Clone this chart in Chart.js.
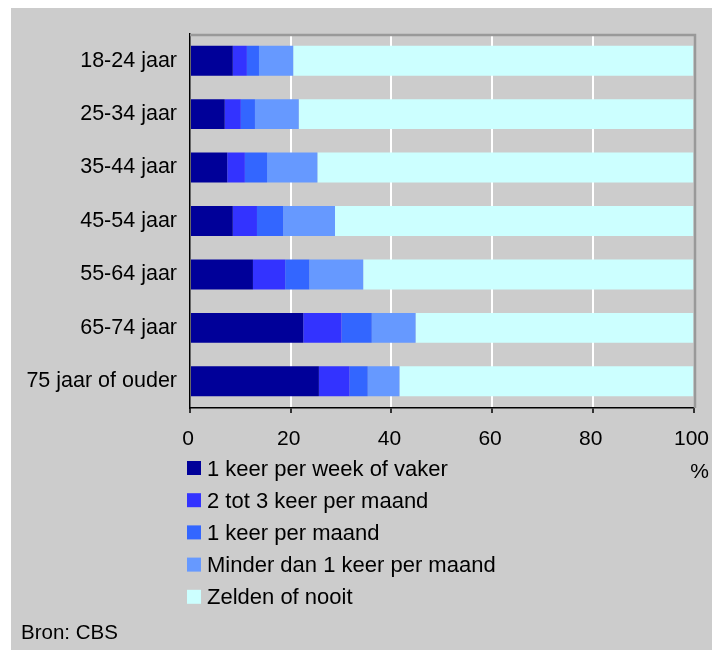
<!DOCTYPE html>
<html>
<head>
<meta charset="utf-8">
<script src="https://cdn.jsdelivr.net/npm/chart.js@4.4.1/dist/chart.umd.min.js"></script>
<style>
  html, body { margin: 0; padding: 0; background: #ffffff; overflow: hidden; }
  #wrap { position: absolute; left: 11px; top: 8px; width: 701px; height: 642px; background: #cccccc; }
  canvas { display: block; }
</style>
</head>
<body>
<div id="wrap"><canvas id="c" width="701" height="642"></canvas></div>
<script>
const categories = ["18-24 jaar", "25-34 jaar", "35-44 jaar", "45-54 jaar", "55-64 jaar", "65-74 jaar", "75 jaar of ouder"];
const seriesNames = ["1 keer per week of vaker", "2 tot 3 keer per maand", "1 keer per maand", "Minder dan 1 keer per maand", "Zelden of nooit"];
const weekly      = [8.5, 6.9, 7.4, 8.5, 12.5, 22.5, 25.6];
const twoToThree  = [2.8, 3.2, 3.5, 4.8, 6.4, 7.6, 6.1];
const monthly     = [2.4, 2.8, 4.4, 5.2, 4.8, 6.0, 3.6];
const lessMonthly = [6.8, 8.7, 10.0, 10.3, 10.7, 8.7, 6.3];
const seldom      = [79.5, 78.4, 74.7, 71.2, 65.6, 55.2, 58.4];
const xTicks = [0, 20, 40, 60, 80, 100];
const colors = ["#000099", "#3333ff", "#3366ff", "#6699ff", "#ccffff"];

const FONT = "'Liberation Sans', Arial, sans-serif";
const seriesData = [weekly, twoToThree, monthly, lessMonthly, seldom];

const decor = {
  id: 'decor',
  afterDatasetsDraw(chart) {
    const ctx = chart.ctx;
    const a = chart.chartArea;
    ctx.save();
    ctx.strokeStyle = '#999999';
    ctx.lineWidth = 2.5;
    ctx.beginPath();
    ctx.moveTo(a.left, a.top + 1);
    ctx.lineTo(a.right + 1.5, a.top + 1);
    ctx.lineTo(a.right + 1.5, a.bottom);
    ctx.stroke();
    ctx.restore();
  },
  afterDraw(chart) {
    const ctx = chart.ctx;
    ctx.save();
    ctx.font = "22px " + FONT;
    ctx.textBaseline = 'alphabetic';
    chart.data.datasets.forEach((ds, i) => {
      const top = 453 + i * 32.2;
      ctx.fillStyle = ds.backgroundColor;
      ctx.fillRect(176, top, 14, 14);
      ctx.fillStyle = '#000000';
      ctx.textAlign = 'left';
      ctx.fillText(ds.label, 196, top + 14.5);
    });
    ctx.font = "21px " + FONT;
    ctx.textAlign = 'right';
    ctx.fillText('%', 698, 470);
    ctx.font = "20.5px " + FONT;
    ctx.textAlign = 'left';
    ctx.fillText('Bron: CBS', 10, 631);
    ctx.restore();
  }
};

new Chart(document.getElementById('c'), {
  type: 'bar',
  data: {
    labels: categories,
    datasets: seriesNames.map((name, i) => ({
      label: name,
      data: seriesData[i],
      backgroundColor: colors[i],
      borderWidth: 0,
      categoryPercentage: 1,
      barPercentage: 0.56
    }))
  },
  options: {
    indexAxis: 'y',
    responsive: false,
    animation: false,
    layout: { padding: { top: 26, right: 18.5, left: 0, bottom: 0 } },
    plugins: { legend: { display: false }, tooltip: { enabled: false } },
    scales: {
      x: {
        stacked: true,
        min: 0, max: 100,
        afterBuildTicks(scale) { scale.ticks = xTicks.map(v => ({ value: v })); },
        afterFit(scale) { scale.height = 242; scale.paddingLeft = 0; scale.paddingRight = 0; },
        grid: {
          color: (c) => (c.tick && (c.tick.value === 0 || c.tick.value === 100)) ? 'rgba(0,0,0,0)' : '#ffffff',
          lineWidth: 2,
          tickColor: '#000000',
          tickLength: 5,
          tickWidth: 1.5,
          drawTicks: true
        },
        border: { display: true, color: '#000000', width: 1.5 },
        ticks: { color: '#000000', font: { family: FONT, size: 21 }, padding: 14, maxRotation: 0, autoSkip: false, labelOffset: -2 }
      },
      y: {
        stacked: true,
        afterFit(scale) { scale.width = 179; scale.paddingTop = 0; scale.paddingBottom = 0; },
        grid: { display: false, drawTicks: false },
        border: { display: true, color: '#000000', width: 1.5 },
        ticks: { color: '#000000', font: { family: FONT, size: 21.5 }, padding: 13 }
      }
    }
  },
  plugins: [decor]
});
</script>
</body>
</html>
